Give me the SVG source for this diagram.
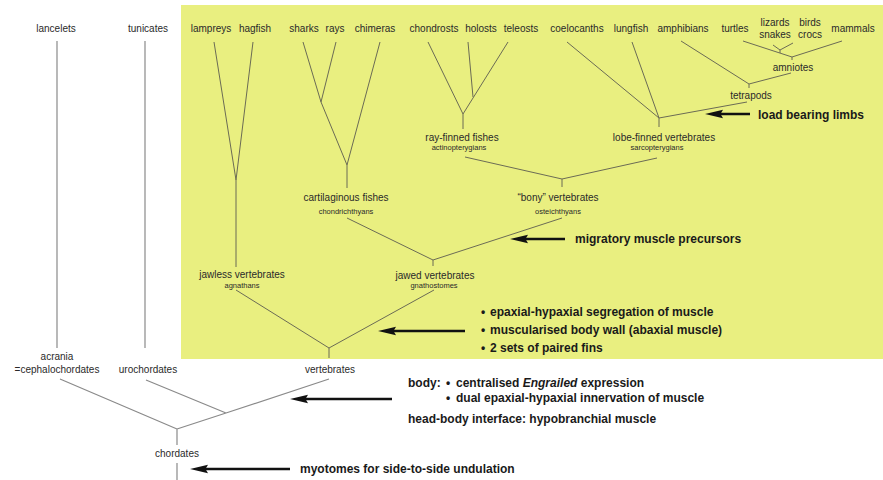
<svg xmlns="http://www.w3.org/2000/svg" width="883" height="480" viewBox="0 0 883 480">
<style>
text{font-family:"Liberation Sans",Arial,sans-serif;fill:#2a2a2a;text-anchor:middle}
.l{font-size:10px}
.s{font-size:7.5px}
.b{font-size:12px;font-weight:bold;text-anchor:start;fill:#1a1a1a}
.e{stroke:#6b6b55;stroke-width:1;fill:none}
.g{stroke:#8a8a8a;stroke-width:1.2;fill:none}
.a{stroke:#111;stroke-width:2.4;fill:none}
.h{fill:#111}
</style>
<defs>
<path id="head" d="M0,0 L18,-4.2 L15.5,0 L18,4.2 Z"/>
</defs>
<rect x="0" y="0" width="883" height="480" fill="#fff"/>
<rect x="181" y="5" width="702" height="354" fill="#e9ef80"/>

<g id="connectors">
<path class="g" d="M57,41V348M145,41V348"/>
<path class="g" d="M60,379L177,429M146,380L226,413M329,379L226,413L177,429M177,429V445M177,463V480"/>
<path class="e" d="M329,348V358"/>
<path class="e" d="M214,42L236,180M253,42L236,180M236,180V267M236,290L329,348M434,290L329,348"/>
<path class="e" d="M303,42L321,102M336,42L321,102M321,102L347,165M380,42L347,165M347,165V188"/>
<path class="e" d="M347,218L433,260M562,218L433,260M433,260V266"/>
<path class="e" d="M428,42L463,114M468,42L473,97M508,42L463,114M463,114V129"/>
<path class="e" d="M465,157L562,179M657,158L562,179M562,179V187"/>
<path class="e" d="M567,42L659,118M632,42L659,118M659,118L747,102M659,118V127"/>
<path class="e" d="M681,41L749,84M791,73L749,84M749,84V88"/>
<path class="e" d="M743,41L792,57M842,41L792,57M792,57V60M773,45L780,50M793,43L780,50M780,50V53"/>
<path class="a" d="M718,114H750M523,239H565M391,331H465M303,399H392M203,469H290"/>
<use href="#head" class="h" x="705" y="114"/>
<use href="#head" class="h" x="510" y="239"/>
<use href="#head" class="h" x="378" y="331"/>
<use href="#head" class="h" x="290" y="399"/>
<use href="#head" class="h" x="190" y="469"/>
</g>

<g id="lancelets"><text class="l" x="56" y="32">lancelets</text></g>
<g id="tunicates"><text class="l" x="148" y="32">tunicates</text></g>
<g id="lampreys"><text class="l" x="211" y="32">lampreys</text></g>
<g id="hagfish"><text class="l" x="255" y="32">hagfish</text></g>
<g id="sharks"><text class="l" x="304" y="32">sharks</text></g>
<g id="rays"><text class="l" x="335" y="32">rays</text></g>
<g id="chimeras"><text class="l" x="375" y="32">chimeras</text></g>
<g id="chondrosts"><text class="l" x="434" y="32">chondrosts</text></g>
<g id="holosts"><text class="l" x="481" y="32">holosts</text></g>
<g id="teleosts"><text class="l" x="521" y="32">teleosts</text></g>
<g id="coelocanths"><text class="l" x="577" y="32">coelocanths</text></g>
<g id="lungfish"><text class="l" x="631" y="32">lungfish</text></g>
<g id="amphibians"><text class="l" x="683" y="32">amphibians</text></g>
<g id="turtles"><text class="l" x="735" y="32">turtles</text></g>
<g id="lizards-snakes"><text class="l" x="775" y="26">lizards</text><text class="l" x="775" y="38">snakes</text></g>
<g id="birds-crocs"><text class="l" x="810" y="26">birds</text><text class="l" x="810" y="38">crocs</text></g>
<g id="mammals"><text class="l" x="853" y="32">mammals</text></g>
<g id="amniotes"><text class="l" x="793" y="71">amniotes</text></g>
<g id="tetrapods"><text class="l" x="751" y="99">tetrapods</text></g>
<g id="ray-finned"><text class="l" x="462" y="141">ray-finned fishes</text><text class="s" x="459" y="150">actinopterygians</text></g>
<g id="lobe-finned"><text class="l" x="664" y="141">lobe-finned vertebrates</text><text class="s" x="657" y="150">sarcopterygians</text></g>
<g id="cartilaginous"><text class="l" x="346" y="201">cartilaginous fishes</text><text class="s" x="346" y="214">chondrichthyans</text></g>
<g id="bony"><text class="l" x="558" y="201">“bony” vertebrates</text><text class="s" x="558" y="214">osteichthyans</text></g>
<g id="jawless"><text class="l" x="242" y="278">jawless vertebrates</text><text class="s" x="242" y="288">agnathans</text></g>
<g id="jawed"><text class="l" x="435" y="279">jawed vertebrates</text><text class="s" x="434" y="288">gnathostomes</text></g>
<g id="acrania"><text class="l" x="57" y="360">acrania</text><text class="l" x="57" y="373">=cephalochordates</text></g>
<g id="urochordates"><text class="l" x="148" y="373">urochordates</text></g>
<g id="vertebrates"><text class="l" x="330" y="373">vertebrates</text></g>
<g id="chordates"><text class="l" x="177" y="457">chordates</text></g>

<g id="notes">
<text class="b" x="758" y="119">load bearing limbs</text>
<text class="b" x="575" y="243">migratory muscle precursors</text>
<text class="b" x="481" y="316">•</text><text class="b" x="490" y="316">epaxial-hypaxial segregation of muscle</text>
<text class="b" x="481" y="334">•</text><text class="b" x="490" y="334">muscularised body wall (abaxial muscle)</text>
<text class="b" x="481" y="352">•</text><text class="b" x="490" y="352">2 sets of paired fins</text>
<text class="b" x="408" y="387">body:</text>
<text class="b" x="446" y="387">•</text><text class="b" x="456" y="387">centralised <tspan font-style="italic">Engrailed</tspan> expression</text>
<text class="b" x="446" y="402">•</text><text class="b" x="456" y="402">dual epaxial-hypaxial innervation of muscle</text>
<text class="b" x="408" y="423">head-body interface: hypobranchial muscle</text>
<text class="b" x="300" y="473">myotomes for side-to-side undulation</text>
</g>
</svg>
